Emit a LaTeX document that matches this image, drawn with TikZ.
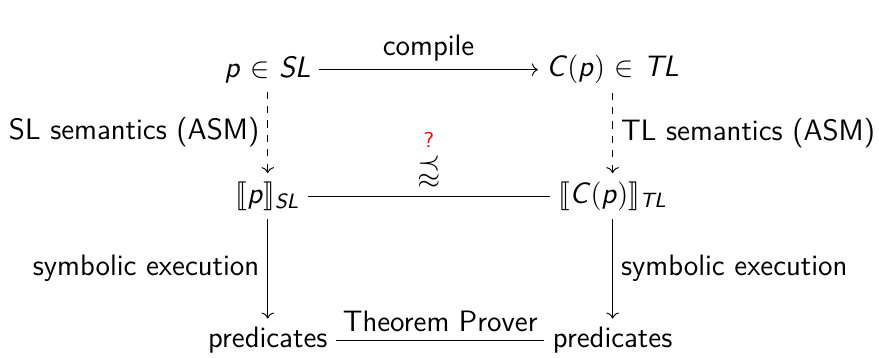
\documentclass[tikz,border=0pt]{standalone}
\usepackage{amsmath}
\usepackage{amssymb}
\usepackage{stmaryrd}
\usepackage{xcolor}
\usepackage{tikz}
\usetikzlibrary{arrows.meta}

% zmienne pisane kursywa bezszeryfowa
\newcommand{\sv}[1]{\textsf{\slshape #1}}

\begin{document}
\begin{tikzpicture}[
    every node/.style={font=\sffamily\fontsize{12.3}{15}\selectfont},
    sem/.style={->, dashed},
    symex/.style={->}
]
    \useasboundingbox (0,0) rectangle (12.87,5.24);

    % Programy (source i target)
    \node (src) at (3.92,4.22) {\sv{p} $\in$ \sv{SL}};
    \node (tgt) at (8.97,4.22) {\sv{C}$($\sv{p}$)$ $\in$ \sv{TL}};

    % Semantyka
    \node (semsrc) at (3.92,2.37) {$\llbracket$\sv{p}$\rrbracket_{\text{\sv{SL}}}$};
    \node (semtgt) at (8.97,2.37) {$\llbracket$\sv{C}$($\sv{p}$)\rrbracket_{\text{\sv{TL}}}$};

    % Predykaty
    \node (predsrc) at (3.92,0.26) {predicates};
    \node (predtgt) at (8.97,0.26) {predicates};

    % Kompilacja
    \draw[->] (src) -- (tgt) node[midway, above] {compile};

    % Strzalki semantyki (ASM)
    \draw[sem] (src) -- (semsrc) node[midway, left] {SL semantics (ASM)};
    \draw[sem] (tgt) -- (semtgt) node[midway, right] {TL semantics (ASM)};

    % Relacja miedzy semantykami
    \draw (semsrc) -- (semtgt) node[midway, above=4pt, inner sep=0pt] (rel) {$\precapprox$};
    \node[above=3pt, inner sep=0pt, red, font=\sffamily\small] (relq) at (rel.north) {?};

    % Wykonanie symboliczne
    \draw[symex] (semsrc) -- (predsrc) node[midway, left] {symbolic execution};
    \draw[symex] (semtgt) -- (predtgt) node[midway, right] {symbolic execution};

    % Prover
    \draw (predsrc) -- (predtgt) node[midway, above] {Theorem Prover};
\end{tikzpicture}
\end{document}
